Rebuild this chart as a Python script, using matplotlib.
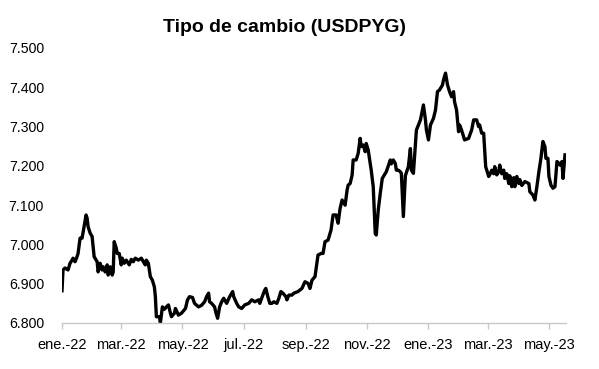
import numpy as np
import pandas as pd
import matplotlib
matplotlib.use("Agg")
import matplotlib.pyplot as plt
from matplotlib.ticker import FuncFormatter

# --- DATA ---
start = pd.Timestamp("2022-01-01")
days = [0, 1, 3, 6, 8, 10, 11, 13, 15, 16, 18, 20, 22, 24, 25, 26, 28, 30, 32, 35,
        36, 38, 40, 41, 43, 45, 46, 48, 50, 51, 52, 54, 55, 57, 59, 60, 62, 64, 67, 69,
        71, 73, 76, 79, 81, 83, 84, 86, 88, 90, 92, 93, 94, 97, 98, 100, 102, 104, 106, 108,
        109, 112, 113, 116, 119, 123, 125, 127, 130, 132, 136, 139, 142, 144, 146, 147, 149, 152, 153, 155,
        157, 159, 161, 162, 164, 167, 170, 171, 174, 176, 179, 182, 186, 189, 192, 196, 197, 200, 202, 203,
        205, 207, 209, 211, 214, 216, 218, 220, 223, 224, 226, 229, 231, 233, 235, 239, 242, 245, 247, 249,
        252, 255, 258, 260, 262, 265, 268, 270, 273, 275, 277, 279, 282, 284, 285, 287, 289, 290, 293, 295,
        297, 298, 300, 302, 303, 305, 308, 310, 312, 313, 315, 317, 319, 322, 323, 325, 327, 328, 330, 332,
        333, 335, 337, 338, 340, 342, 345, 347, 348, 350, 353, 355, 357, 360, 362, 363, 365, 367, 370, 372,
        374, 376, 379, 380, 382, 384, 386, 388, 390, 391, 393, 395, 396, 398, 401, 405, 408, 410, 413, 415,
        416, 418, 420, 422, 425, 426, 428, 430, 431, 433, 435, 436, 438, 440, 441, 443, 445, 446, 448, 450,
        451, 453, 455, 456, 458, 461, 465, 466, 469, 471, 473, 475, 477, 479, 481, 482, 484, 485, 487, 489,
        491, 493, 495, 496, 498, 499, 501]
usdpyg = [6882, 6935, 6940, 6935, 6952, 6960, 6965, 6956, 6969, 6977, 7016, 7016, 7045, 7075, 7067, 7045, 7029, 7020, 6969, 6956,
          6930, 6952, 6935, 6943, 6930, 6948, 6922, 6943, 6922, 6930, 7007, 6991, 6977, 6977, 6948, 6965, 6952, 6960, 6948, 6962,
          6956, 6965, 6960, 6965, 6956, 6948, 6960, 6952, 6918, 6909, 6892, 6867, 6816, 6816, 6801, 6841, 6835, 6841, 6846, 6825,
          6816, 6825, 6837, 6820, 6825, 6837, 6859, 6867, 6865, 6850, 6841, 6845, 6854, 6867, 6876, 6854, 6850, 6841, 6829, 6812,
          6841, 6854, 6863, 6859, 6850, 6867, 6880, 6867, 6850, 6841, 6837, 6846, 6850, 6859, 6854, 6859, 6850, 6871, 6884, 6888,
          6867, 6850, 6850, 6854, 6850, 6863, 6880, 6876, 6867, 6859, 6871, 6871, 6876, 6878, 6880, 6888, 6905, 6901, 6888, 6909,
          6918, 6973, 6977, 6977, 7007, 7011, 7037, 7075, 7075, 7054, 7092, 7113, 7100, 7139, 7151, 7155, 7177, 7215, 7215, 7232,
          7270, 7249, 7253, 7236, 7257, 7240, 7189, 7147, 7028, 7024, 7088, 7130, 7168, 7181, 7185, 7200, 7215, 7205, 7215, 7206,
          7189, 7189, 7185, 7181, 7071, 7175, 7198, 7244, 7189, 7181, 7291, 7304, 7317, 7355, 7317, 7291, 7266, 7304, 7321, 7342,
          7389, 7393, 7406, 7419, 7436, 7406, 7389, 7376, 7389, 7363, 7342, 7287, 7304, 7291, 7266, 7270, 7291, 7317, 7317, 7300,
          7304, 7283, 7283, 7198, 7173, 7177, 7189, 7180, 7198, 7177, 7185, 7202, 7180, 7189, 7168, 7180, 7155, 7175, 7147, 7170,
          7147, 7173, 7155, 7165, 7150, 7160, 7155, 7134, 7126, 7113, 7147, 7185, 7219, 7262, 7249, 7219, 7219, 7173, 7151, 7143,
          7147, 7211, 7206, 7202, 7211, 7168, 7228]
tick_dates = ["2022-01-01", "2022-03-01", "2022-05-01", "2022-07-01", "2022-09-01",
              "2022-11-01", "2023-01-01", "2023-03-01", "2023-05-01"]
tick_labels = ["ene.-22", "mar.-22", "may.-22", "jul.-22", "sep.-22",
               "nov.-22", "ene.-23", "mar.-23", "may.-23"]

dates = [start + pd.Timedelta(days=d) for d in days]

plt.rcParams['font.family'] = ['Liberation Sans', 'DejaVu Sans']

fig = plt.figure(figsize=(5.99, 3.69), dpi=100)
ax = fig.add_axes([62 / 599, 1 - 323 / 369, 504 / 599, 275 / 369])

ax.plot(dates, usdpyg, color='black', linewidth=2.4, solid_joinstyle='round')

ax.set_ylim(6800, 7500)
ax.set_yticks(np.arange(6800, 7501, 100))
ax.yaxis.set_major_formatter(FuncFormatter(lambda v, p: f"{v / 1000:.3f}"))
ax.set_xlim(start, start + pd.Timedelta(days=502))
ax.set_xticks([pd.Timestamp(t) for t in tick_dates])
ax.set_xticklabels(tick_labels)

for s in ['top', 'right', 'left']:
    ax.spines[s].set_visible(False)
ax.spines['bottom'].set_color('#c8c8c8')
ax.spines['bottom'].set_linewidth(1.0)
ax.tick_params(axis='y', length=0, pad=13, labelsize=10.2, colors='black')
ax.tick_params(axis='x', length=4, width=1, color='#c8c8c8', pad=7, labelsize=10.5)

fig.text(284.5 / 599, 1 - 28 / 369, 'Tipo de cambio (USDPYG)', ha='center', va='center',
         fontsize=14, fontweight='bold')

fig.savefig('out.png', dpi=100)
